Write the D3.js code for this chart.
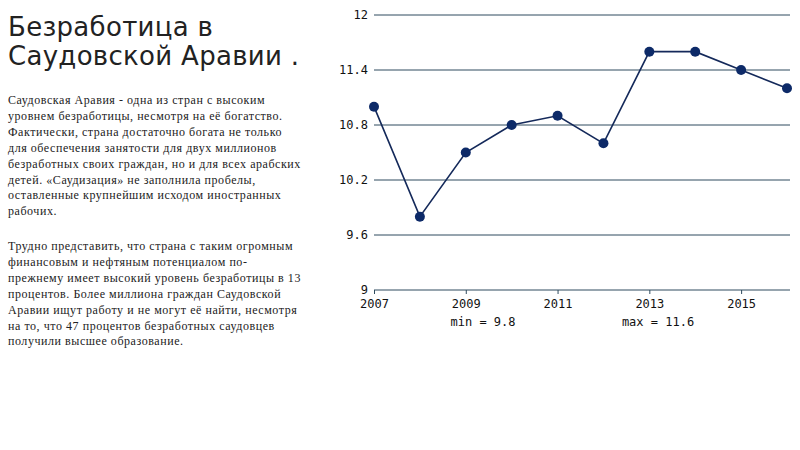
<!DOCTYPE html>
<html>
<head>
<meta charset="utf-8">
<script src="https://cdn.jsdelivr.net/npm/d3@7"></script>
<style>
  body { margin: 0; background: #fff; }
</style>
</head>
<body>
<div id="holder"></div>
<script>
const years = [2007, 2008, 2009, 2010, 2011, 2012, 2013, 2014, 2015, 2016];
const rates = [11.0, 9.8, 10.5, 10.8, 10.9, 10.6, 11.6, 11.6, 11.4, 11.2];
const yTicks = [9, 9.6, 10.2, 10.8, 11.4, 12];
const xTicks = [2007, 2009, 2011, 2013, 2015];
const titleLines = ["Безработица в", "Саудовской Аравии ."];
const para1 = [
  "Саудовская Аравия - одна из стран с высоким",
  "уровнем безработицы, несмотря на её богатство.",
  "Фактически, страна достаточно богата не только",
  "для обеспечения занятости для двух миллионов",
  "безработных своих граждан, но и для всех арабских",
  "детей. «Саудизация» не заполнила пробелы,",
  "оставленные крупнейшим исходом иностранных",
  "рабочих."
];
const para2 = [
  "Трудно представить, что страна с таким огромным",
  "финансовым и нефтяным потенциалом по-",
  "прежнему имеет высокий уровень безработицы в 13",
  "процентов. Более миллиона граждан Саудовской",
  "Аравии ищут работу и не могут её найти, несмотря",
  "на то, что 47 процентов безработных саудовцев",
  "получили высшее образование."
];

const w = 800, h = 450;
const svg = d3.select("#holder").append("svg")
  .attr("width", w).attr("height", h);

// title
svg.append("text")
  .attr("font-family", "DejaVu Sans")
  .attr("font-size", 26)
  .attr("letter-spacing", 0.3)
  .attr("fill", "#222")
  .selectAll("tspan")
  .data(titleLines)
  .enter().append("tspan")
    .attr("x", 8)
    .attr("y", (d, i) => 36 + i * 29)
    .text(d => d);

// body text
function para(lines, y0) {
  svg.append("text")
    .attr("font-family", "Liberation Serif")
    .attr("font-size", 12)
    .attr("letter-spacing", 0.55)
    .attr("fill", "#222")
    .selectAll("tspan")
    .data(lines)
    .enter().append("tspan")
      .attr("x", 8)
      .attr("y", (d, i) => y0 + i * 15.9)
      .text(d => d);
}
para(para1, 104);
para(para2, 250);

// chart
const x = d3.scaleLinear().domain([2007, 2016]).range([374, 787]);
const y = d3.scaleLinear().domain([9, 12]).range([290, 15]);
const gridColor = "#2f4b5e";

svg.append("g")
  .selectAll("line")
  .data(yTicks)
  .enter().append("line")
    .attr("x1", x(2007)).attr("x2", 790)
    .attr("y1", d => y(d)).attr("y2", d => y(d))
    .attr("stroke", gridColor).attr("stroke-width", 1);

svg.append("g")
  .attr("font-family", "DejaVu Sans Mono")
  .attr("font-size", 12)
  .attr("fill", "#111")
  .selectAll("text")
  .data(yTicks)
  .enter().append("text")
    .attr("x", 368)
    .attr("y", d => y(d) + 4)
    .attr("text-anchor", "end")
    .text(d => d);

const xAxis = d3.axisBottom(x).tickValues(xTicks).tickFormat(d3.format("d")).tickSize(4).tickSizeOuter(0);
const gx = svg.append("g")
  .attr("transform", `translate(0, ${y(9)})`)
  .call(xAxis);
gx.select(".domain").remove();
gx.selectAll(".tick line").attr("stroke", gridColor);
gx.selectAll(".tick text")
  .attr("font-family", "DejaVu Sans Mono")
  .attr("font-size", 12)
  .attr("fill", "#111")
  .attr("y", 18)
  .attr("dy", 0);

const line = d3.line().x((d, i) => x(years[i])).y(d => y(d));
svg.append("path")
  .datum(rates)
  .attr("d", line)
  .attr("fill", "none")
  .attr("stroke", "#14295a")
  .attr("stroke-width", 1.6);

svg.append("g")
  .selectAll("circle")
  .data(rates)
  .enter().append("circle")
    .attr("cx", (d, i) => x(years[i]))
    .attr("cy", d => y(d))
    .attr("r", 5)
    .attr("fill", "#0d2a68");

svg.append("text")
  .attr("font-family", "DejaVu Sans Mono")
  .attr("font-size", 12)
  .attr("fill", "#111")
  .attr("x", 483).attr("y", 326)
  .attr("text-anchor", "middle")
  .text("min = " + d3.min(rates));

svg.append("text")
  .attr("font-family", "DejaVu Sans Mono")
  .attr("font-size", 12)
  .attr("fill", "#111")
  .attr("x", 658).attr("y", 326)
  .attr("text-anchor", "middle")
  .text("max = " + d3.max(rates));
</script>
</body>
</html>
